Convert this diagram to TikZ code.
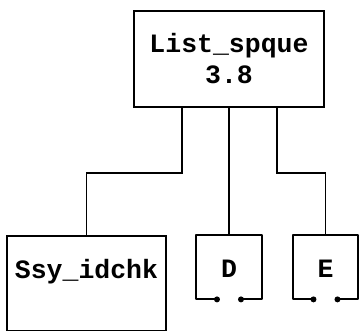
\documentclass[tikz,border=0pt]{standalone}
\usepackage{fontspec}
\setmonofont{Liberation Mono}
\usepackage{tikz}
\usetikzlibrary{calc}
\tikzset{
  blk/.style={draw=black, line width=1.8pt, inner sep=0pt, align=center,
    font=\ttfamily\bfseries\fontsize{26.5}{31}\selectfont},
  leaf/.style={inner sep=0pt, minimum width=65pt, text height=42pt, text depth=22pt,
    font=\ttfamily\bfseries\fontsize{26.5}{31}\selectfont},
  wire/.style={draw=black, line width=1.7pt},
  side/.style={draw=black, line width=1.8pt, line join=round},
  dot/.style={circle, fill=black, inner sep=0pt, minimum size=6pt},
}
\begin{document}
\begin{tikzpicture}[x=1pt, y=-1pt]
  \useasboundingbox (0,0) rectangle (360,331);
  % boxes
  \node[blk, minimum width=190pt, minimum height=96pt, anchor=north] (list) at (229,10) {List\_spque\\3.8};
  \node[blk, minimum width=159pt, text height=43pt, text depth=52pt, anchor=north] (ssy) at (86.5,235) {Ssy\_idchk};
  \node[leaf, anchor=north] (d) at (229,235) {D};
  \node[leaf, anchor=north] (e) at (325.5,235) {E};
  % open boxes with two pins
  \foreach \n in {d,e}{
    \draw[side] ($(\n.south)+(-12,0)$) -- (\n.south west) -- (\n.north west)
      -- (\n.north east) -- (\n.south east) -- ($(\n.south)+(12,0)$);
    \node[dot] (\n-l) at ($(\n.south)+(-12,0)$) {};
    \node[dot] (\n-r) at ($(\n.south)+(12,0)$) {};
  }
  % connectors
  \draw[wire] ([xshift=-47pt]list.south) -- ++(0,65) -| (ssy.north);
  \draw[wire] (list.south) -- (d.north);
  \draw[wire] ([xshift=48pt]list.south) -- ++(0,65) -| (e.north);
\end{tikzpicture}
\end{document}
